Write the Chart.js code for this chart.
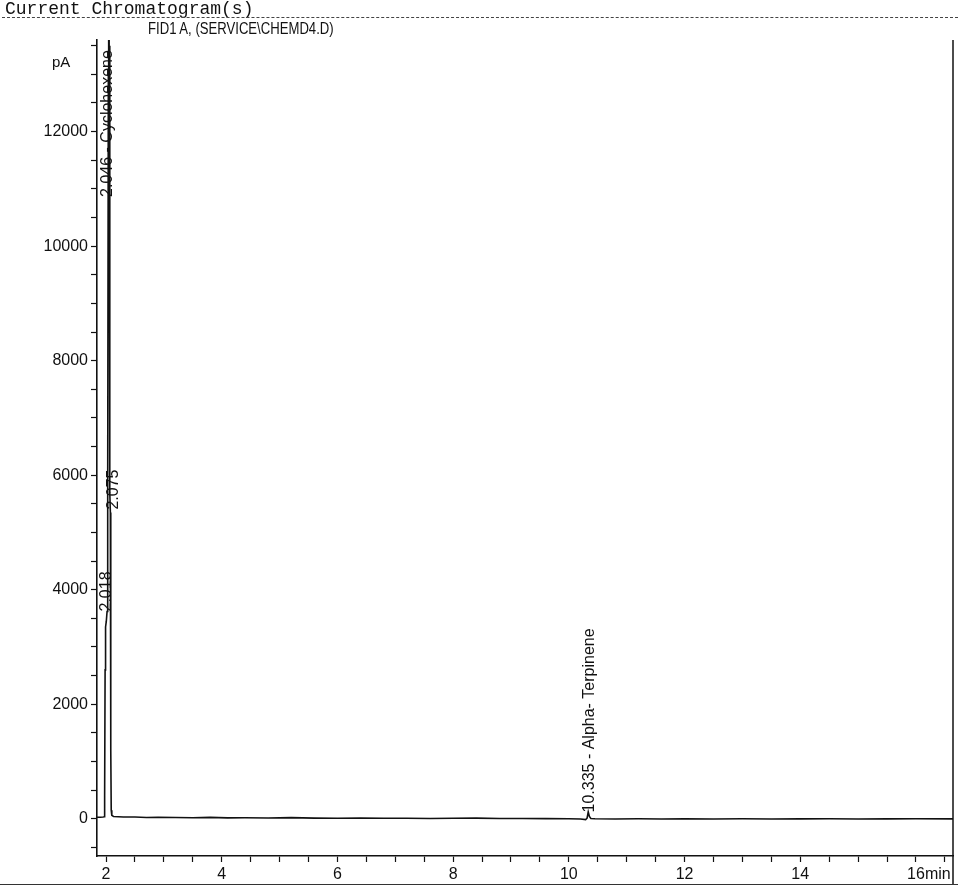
<!DOCTYPE html>
<html>
<head>
<meta charset="utf-8">
<script src="https://cdn.jsdelivr.net/npm/chart.js@4.4.0/dist/chart.umd.min.js"></script>
<style>
    html, body { margin: 0; padding: 0; background: #fff; }
    #page { position: relative; width: 958px; height: 888px; overflow: hidden; font-family: "Liberation Sans", Arial, sans-serif; color: #111; }
    #title { position: absolute; left: 5px; top: -1px; font-family: "Liberation Mono", "DejaVu Sans Mono", monospace; font-size: 18px; white-space: nowrap; }
    #rule { position: absolute; left: 2px; right: 0; top: 17px; border-top: 1px dashed #444; }
    #signal { position: absolute; left: 148px; top: 20px; font-size: 16px; white-space: nowrap; transform: scaleX(0.82); transform-origin: left top; }
    #unit { position: absolute; left: 52px; top: 53px; font-size: 15px; }
    #frame { position: absolute; left: 0; right: 0; top: 884px; border-top: 1px solid #333; }
    #chartBox { position: absolute; left: 0; top: 0; width: 958px; height: 888px; }
</style>
</head>
<body>
<div id="page">
    <div id="chartBox"><canvas id="chromatogram"></canvas></div>
    <div id="title">Current Chromatogram(s)</div>
    <div id="rule"></div>
    <div id="signal">FID1 A, (SERVICE\CHEMD4.D)</div>
    <div id="unit">pA</div>
    <div id="frame"></div>
</div>
<script>
// Retention time (min) and detector signal (pA)
const times = [1.844, 1.90, 1.95, 1.968, 1.976, 1.984, 1.992, 2.005, 2.018, 2.026, 2.032, 2.040, 2.046, 2.054, 2.062, 2.068, 2.075, 2.080, 2.084, 2.090, 2.100, 2.130,
    2.3, 2.5, 2.7, 2.9, 3.2, 3.5, 3.8, 4.1, 4.4, 4.8, 5.2, 5.6, 6.0, 6.4, 6.8, 7.2, 7.6, 8.0, 8.4, 8.8, 9.2, 9.6, 10.0, 10.2,
    10.29, 10.315, 10.335, 10.355, 10.38, 10.45, 10.8, 11.2, 11.6, 12.0, 12.5, 13.0, 13.5, 14.0, 14.5, 15.0, 15.5, 16.0, 16.64];
const signal = [28, 28, 30, 35, 400, 2600, 3350, 3450, 3620, 3900, 6000, 13000, 16500, 13500, 7800, 5700, 5350, 4600, 1200, 150, 60, 40,
    30, 32, 22, 25, 22, 18, 24, 15, 18, 14, 20, 12, 10, 14, 8, 10, 6, 8, 12, 4, 6, 2, 0, -5,
    -15, 10, 120, 40, 5, 0, -3, 0, -4, -2, -5, 0, -3, -2, 0, -4, -2, 0, -2];

// Integrated peaks
const peakTimes = [2.018, 2.046, 2.075, 10.335];
const peakNames = ['', 'Cyclohexene', '', 'Alpha- Terpinene'];

// Axis labels
const xMajor = [2, 4, 6, 8, 10, 12, 14, 16];
const yMajor = [0, 2000, 4000, 6000, 8000, 10000, 12000];

const ink = '#111';
const labelFont = '16px "Liberation Sans", Arial, sans-serif';

// where each peak label starts (pA) and a small sideways nudge (px)
const labelBase = [3620, 10860, 5400, 110];
const labelNudge = [0, -1, 3, 1];

const peakLabels = {
    id: 'peakLabels',
    afterDatasetsDraw(chart) {
        const { ctx, chartArea, scales: { x, y } } = chart;
        ctx.save();
        ctx.fillStyle = ink;
        ctx.font = labelFont;
        peakTimes.forEach((t, i) => {
            const text = t.toFixed(3) + (peakNames[i] ? ' - ' + peakNames[i] : '');
            ctx.save();
            ctx.translate(x.getPixelForValue(t) + labelNudge[i], y.getPixelForValue(labelBase[i]));
            ctx.rotate(-Math.PI / 2);
            ctx.textAlign = 'left';
            ctx.textBaseline = 'middle';
            ctx.fillText(text, 0, 0);
            ctx.restore();
        });

        // unit next to the last time label
        ctx.textAlign = 'left';
        ctx.textBaseline = 'top';
        ctx.fillText('min', x.getPixelForValue(16) + 9, chartArea.bottom + 11);

        // right edge of the plot frame
        ctx.strokeStyle = ink;
        ctx.lineWidth = 1.5;
        ctx.beginPath();
        ctx.moveTo(chartArea.right, chartArea.top);
        ctx.lineTo(chartArea.right, 884);
        ctx.stroke();
        ctx.restore();
    }
};

document.addEventListener('DOMContentLoaded', function() {
    const ctx = document.getElementById('chromatogram').getContext('2d');
    new Chart(ctx, {
        type: 'line',
        data: {
            datasets: [{
                label: 'FID1 A',
                data: times.map((t, i) => ({ x: t, y: signal[i] })),
                borderColor: ink,
                borderWidth: 1.6,
                pointRadius: 0,
                tension: 0,
                fill: false
            }]
        },
        options: {
            responsive: true,
            maintainAspectRatio: false,
            animation: false,
            layout: { padding: { left: 0, top: 40, right: 5, bottom: 0 } },
            plugins: {
                legend: { display: false },
                tooltip: { enabled: false }
            },
            scales: {
                x: {
                    type: 'linear',
                    min: 1.844,
                    max: 16.64,
                    afterBuildTicks: scale => {
                        const ticks = [];
                        for (let k = 4; k <= 33; k++) ticks.push({ value: k * 0.5 });
                        scale.ticks = ticks;
                    },
                    afterFit: scale => { scale.height = 32; },
                    grid: { drawOnChartArea: false, tickLength: 6, tickColor: ink, tickWidth: 1.2 },
                    border: { display: true, color: ink, width: 1.6 },
                    ticks: {
                        color: ink,
                        padding: 3,
                        maxRotation: 0,
                        autoSkip: false,
                        font: { family: '"Liberation Sans", Arial, sans-serif', size: 16 },
                        callback: value => xMajor.includes(value) ? String(value) : ''
                    }
                },
                y: {
                    type: 'linear',
                    min: -650,
                    max: 13600,
                    afterBuildTicks: scale => {
                        const ticks = [];
                        for (let k = -1; k <= 27; k++) ticks.push({ value: k * 500 });
                        scale.ticks = ticks;
                    },
                    afterFit: scale => { scale.width = 97; },
                    grid: { drawOnChartArea: false, tickLength: 6, tickColor: ink, tickWidth: 1.2 },
                    border: { display: true, color: ink, width: 1.6 },
                    ticks: {
                        color: ink,
                        padding: 3,
                        autoSkip: false,
                        font: { family: '"Liberation Sans", Arial, sans-serif', size: 16 },
                        callback: value => yMajor.includes(value) ? String(value) : ''
                    }
                }
            }
        },
        plugins: [peakLabels]
    });
});
</script>
</body>
</html>
